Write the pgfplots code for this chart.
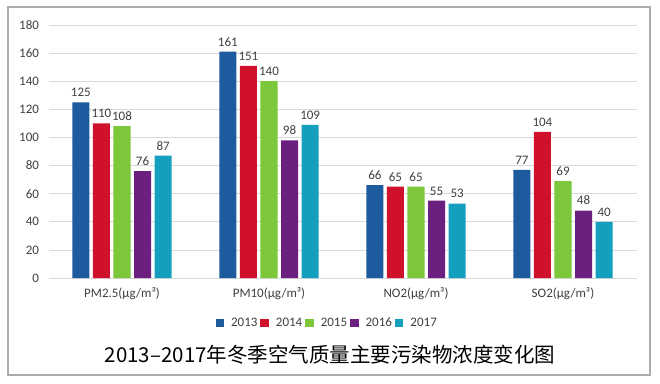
\documentclass[border=0pt]{standalone}
\usepackage{pgfplots}
\pgfplotsset{compat=1.18}
\usepackage{fontspec}
\setmainfont{Carlito}
\newfontfamily\cjk{Noto Sans CJK SC}
\definecolor{c13}{HTML}{1D5B9E}
\definecolor{c14}{HTML}{D0112B}
\definecolor{c15}{HTML}{7DC73A}
\definecolor{c16}{HTML}{6B1F7E}
\definecolor{c17}{HTML}{149FBE}
\definecolor{txt}{HTML}{404040}
\begin{document}
\begin{tikzpicture}
\path[fill=white] (0pt,0pt) rectangle (660pt,383pt);
\draw[gray!65, line width=1.2pt] (8pt,8pt) rectangle (650pt,376pt);
\begin{axis}[
  at={(122pt,105pt)}, anchor=origin,
  scale only axis, width=588pt, height=253pt,
  xmin=-0.5, xmax=3.5, ymin=0, ymax=180,
  ytick={0,20,...,180},
  xtick={0,1,2,3},
  xticklabels={PM2.5(μg/m³),PM10(μg/m³),NO2(μg/m³),SO2(μg/m³)},
  axis line style={draw=none},
  ymajorgrids,
  grid style={draw=gray!30, line width=0.6pt},
  major tick length=0pt,
  /pgf/number format/assume math mode=true,
  yticklabel style={font=\fontsize{13}{15}\selectfont, text=txt, xshift=-6pt},
  xticklabel style={font=\fontsize{13}{15}\selectfont, text=txt, yshift=-6pt},
  ybar, bar width=0.116,
  nodes near coords,
  every node near coord/.append style={font=\fontsize{13}{15}\selectfont, text=txt, yshift=2pt},
  legend columns=5,
  legend style={at={(0.474,-0.178)}, anchor=center, draw=none, fill=none,
    font=\fontsize{13}{15}\selectfont, text=txt,
    /tikz/every even column/.append style={column sep=1pt},
    /tikz/every odd column/.append style={column sep=5pt}},
  legend image code/.code={\fill[#1, draw=none] (0pt,-4pt) rectangle (8.5pt,4.5pt);},
  clip=false,
]
\addplot[fill=c13, draw=none, bar shift=-0.28] coordinates {(0,125) (1,161) (2,66) (3,77)};
\addplot[fill=c14, draw=none, bar shift=-0.14] coordinates {(0,110) (1,151) (2,65) (3,104)};
\addplot[fill=c15, draw=none, bar shift=0] coordinates {(0,108) (1,140) (2,65) (3,69)};
\addplot[fill=c16, draw=none, bar shift=0.14] coordinates {(0,76) (1,98) (2,55) (3,48)};
\addplot[fill=c17, draw=none, bar shift=0.28] coordinates {(0,87) (1,109) (2,53) (3,40)};
\legend{2013,2014,2015,2016,2017}
\end{axis}
\node[font=\cjk\fontsize{20.5}{24}\selectfont, text=black] at (330pt,28pt) {2013–2017年冬季空气质量主要污染物浓度变化图};
\pgfresetboundingbox
\path (0pt,0pt) rectangle (660pt,383pt);
\end{tikzpicture}
\end{document}
